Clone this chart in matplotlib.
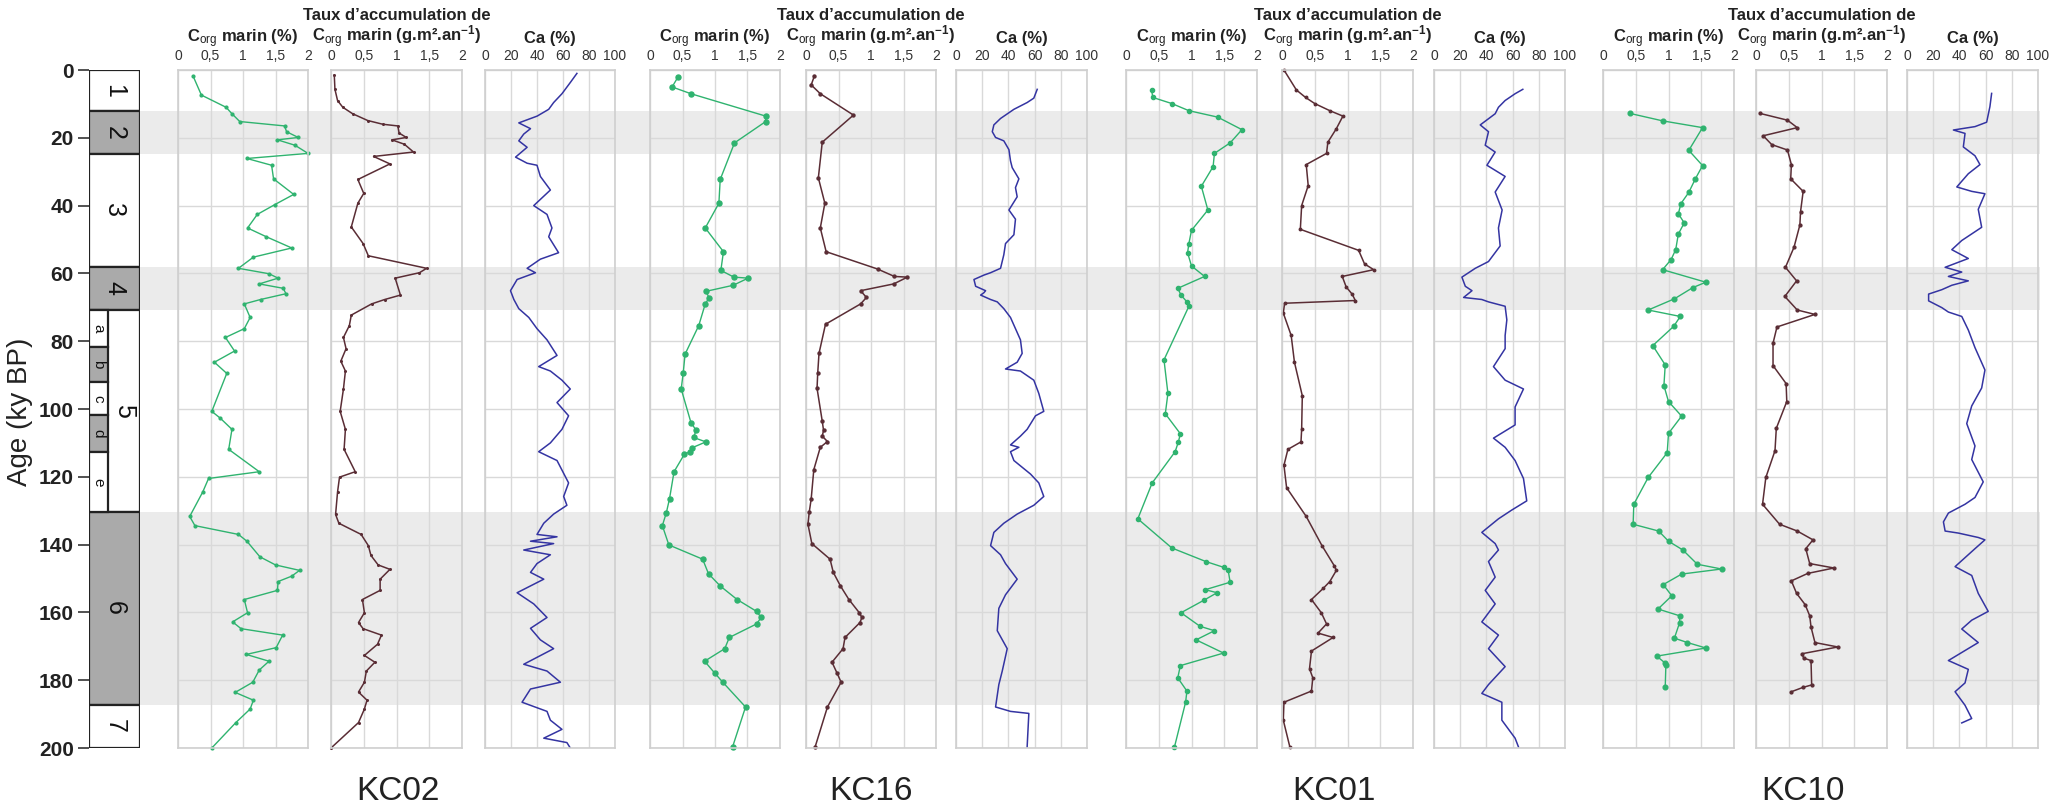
import matplotlib
matplotlib.use("Agg")
import matplotlib.pyplot as plt

plt.rcParams['font.family'] = ['Liberation Sans', 'DejaVu Sans']
plt.rcParams['mathtext.fontset'] = 'custom'
plt.rcParams['mathtext.rm'] = 'Liberation Sans'
plt.rcParams['mathtext.default'] = 'regular'

# ---------------- DATA ----------------
cores = ["KC02", "KC16", "KC01", "KC10"]

mis_bounds = [0, 12.2, 24.8, 58.0, 70.8, 130.3, 187.2, 200]
mis_labels = ["1", "2", "3", "4", "5", "6", "7"]
sub_bounds = [70.8, 81.7, 92.0, 101.8, 112.7, 130.3]
sub_labels = ["a", "b", "c", "d", "e"]
glacial_bands = [(12.2, 24.8), (58.0, 70.8), (130.3, 187.2)]

# (age ky BP, value)
kc02_corg = [(1.7,0.23),(7.4,0.36),(11.0,0.74),(12.9,0.83),(15.2,0.95),(16.5,1.64),(18.2,1.67),
             (19.9,1.85),(20.6,1.53),(22.2,1.80),(24.6,2.0),(26.1,1.06),(28.1,1.44),(32.1,1.47),
             (36.7,1.78),(39.7,1.49),(42.6,1.22),(46.6,1.07),(49.2,1.36),(52.5,1.75),(55.2,1.16),
             (58.5,0.93),(60.1,1.40),(61.4,1.54),(63.1,1.25),(64.4,1.62),(66.0,1.66),(67.7,1.27),
             (69.0,1.02),(73.0,1.11),(76.3,1.02),(78.9,0.73),(82.9,0.87),(86.2,0.56),(89.5,0.75),
             (100.7,0.52),(102.7,0.65),(106.0,0.83),(111.9,0.78),(118.5,1.25),(120.5,0.47),
             (124.5,0.38),(131.7,0.18),(134.4,0.26),(137.0,0.93),(139.0,1.06),(143.6,1.26),
             (146.0,1.50),(147.6,1.87),(149.3,1.75),(150.9,1.54),(153.5,1.53),(156.2,1.02),
             (160.1,1.07),(162.8,0.84),(164.8,0.97),(166.7,1.61),(170.4,1.51),(172.4,1.05),
             (174.4,1.40),(177.0,1.25),(180.6,1.15),(183.6,0.88),(185.9,1.16),(188.5,1.11),
             (192.5,0.89),(200.0,0.52)]
kc02_acc = [(1.5,0.05),(5.7,0.06),(9.0,0.10),(11.0,0.18),(12.9,0.33),(14.9,0.56),(16.0,0.79),
            (16.5,1.02),(18.6,1.04),(19.9,1.15),(20.6,0.93),(21.9,1.12),(24.2,1.26),(25.5,0.65),
            (27.7,0.90),(32.3,0.41),(36.4,0.50),(39.3,0.41),(46.3,0.31),(51.2,0.49),(54.8,0.57),
            (58.5,1.46),(59.8,1.35),(61.4,0.98),(66.4,1.06),(67.7,0.82),(69.0,0.62),(72.3,0.31),
            (75.4,0.28),(78.9,0.19),(82.2,0.23),(85.9,0.15),(88.8,0.22),(94.1,0.19),(100.7,0.14),
            (106.0,0.22),(111.9,0.20),(118.5,0.37),(120.1,0.13),(124.5,0.10),(131.1,0.07),
            (133.7,0.12),(137.0,0.46),(140.3,0.57),(143.2,0.61),(146.0,0.72),(147.3,0.90),
            (150.2,0.75),(153.5,0.75),(156.2,0.48),(160.1,0.51),(163.0,0.42),(164.8,0.49),
            (166.7,0.77),(169.4,0.71),(172.7,0.51),(174.7,0.67),(177.3,0.54),(180.6,0.51),
            (183.5,0.42),(185.9,0.55),(188.5,0.51),(192.5,0.42),(200.0,0.0)]
kc02_ca = [(1,70.7),(3.7,65.6),(7,59.2),(9.6,52.8),(11.6,49.0),(13.6,40.1),(15.6,26),(17.3,35),
           (18.9,29.8),(20.9,26),(22.8,32.4),(25.7,23.5),(27.5,32.4),(28.1,40),(31.4,42.6),
           (35.4,50.3),(40,37.5),(42.6,47.7),(46.6,51.5),(49.2,49),(53.9,56.6),(55.8,42.6),
           (58.5,32.4),(59.8,38.8),(61.8,24.7),(65.1,19.6),(67.7,22.2),(70.4,26),(73,33.7),
           (76.3,40),(79.6,47.7),(84.2,55.4),(87.5,41.3),(88.8,50.3),(91.5,59.2),(94.1,65.6),
           (98.1,55.4),(102,64.3),(106,59.2),(110,50.3),(112.6,41.3),(115.2,55.4),(121.8,64.3),
           (125.8,60.5),(128.4,63),(131,52.8),(133.7,45.2),(137,40),(137.7,55.4),(139,35),
           (139.7,52.8),(141.6,29.8),(143,50.3),(145.6,40),(148.2,35),(150.2,45.2),(154.2,24.7),
           (157.5,37.5),(161.5,47.7),(164.7,35),(168.1,42.6),(170.7,52.8),(175.3,29.8),
           (177.3,47.7),(180.6,58),(182.6,35),(186.5,28.5),(189.2,47.7),(191.8,50.3),
           (194.5,59.2),(197.1,45.2),(198.4,63),(200,65.6)]

kc16_corg = [(2.1,0.43),(5.0,0.34),(7.0,0.63),(13.6,1.78),(15.2,1.78),(21.5,1.30),(32.3,1.08),
             (39.3,1.06),(46.6,0.85),(53.6,1.13),(59.1,1.09),(61.1,1.29),(61.4,1.51),(63.5,1.28),
             (65.3,0.86),(67.2,0.91),(69.0,0.85),(75.4,0.75),(83.8,0.54),(89.5,0.51),(94.1,0.48),
             (104.0,0.63),(106.3,0.71),(108.4,0.67),(109.7,0.86),(111.5,0.64),(112.6,0.62),
             (113.3,0.53),(118.5,0.37),(126.5,0.30),(130.7,0.25),(134.4,0.19),(140.1,0.29),
             (144.3,0.81),(148.6,0.90),(152.2,1.08),(156.2,1.34),(159.7,1.64),(161.5,1.71),
             (163.4,1.64),(167.4,1.22),(170.7,1.15),(174.4,0.84),(178.0,1.00),(180.6,1.12),
             (187.9,1.47),(199.7,1.27)]
kc16_acc = [(1.7,0.13),(4.4,0.08),(7.0,0.22),(13.3,0.73),(21.3,0.25),(31.8,0.19),(39.3,0.29),
            (46.6,0.22),(53.6,0.31),(58.7,1.10),(60.9,1.36),(61.1,1.56),(63.1,1.35),(65.1,0.84),
            (67.1,0.93),(69.0,0.84),(75.0,0.30),(83.6,0.20),(89.5,0.18),(93.9,0.17),(103.6,0.25),
            (106.3,0.27),(108.0,0.25),(109.6,0.33),(111.3,0.22),(117.9,0.12),(126.5,0.08),
            (130.4,0.05),(134.0,0.03),(139.7,0.09),(144.3,0.37),(148.2,0.42),(152.2,0.53),
            (156.2,0.66),(160.1,0.82),(161.5,0.86),(163.0,0.83),(167.4,0.60),(170.7,0.57),
            (174.7,0.40),(178.0,0.48),(180.6,0.54),(187.9,0.33),(199.7,0.14)]
kc16_ca = [(5.7,62),(8.3,59.4),(9.6,54.3),(11.6,44.2),(14.3,34),(16.2,28.9),(18.2,27.7),(19.9,30.2),
           (20.9,36.5),(23.5,40.4),(26.8,41.6),(28.8,42.9),(32.1,48),(34.7,45.4),(37.4,46.7),
           (41.3,40.4),(44,45.4),(48.6,44.2),(51.2,37.8),(54.5,36.5),(58.5,34),(59.8,26.4),
           (60.5,21.3),(61.8,13.7),(63.8,15),(65.1,22.6),(65.7,21.3),(66.4,18.8),(67.7,26.4),
           (68.4,31.5),(70.4,36.5),(73,41.6),(76.3,45.4),(79.6,49.2),(83.6,50.5),(86.2,46.7),
           (88.2,37.8),(88.8,49.2),(91.5,59.4),(95.4,63.2),(100.7,67),(102,60.7),(106,54.3),
           (108,49.2),(110.6,41.6),(111.3,48),(112.6,41.6),(115.2,44.2),(119.2,56.9),(121.8,63.2),
           (125.8,67),(128.4,59.4),(131,46.7),(133.7,36.5),(136.4,28.9),(140.3,26.4),(143,34),
           (145.6,37.8),(150.2,46.7),(154.8,37.8),(158.8,32.7),(165.4,31.5),(170.7,39.1),
           (177.3,35.3),(181.3,32.7),(187.9,30.2),(189.2,41.6),(189.8,55.6),(199.7,54.3)]

kc01_corg = [(5.9,0.39),(8.1,0.41),(9.9,0.70),(12.0,0.96),(13.9,1.40),(17.6,1.77),(21.5,1.59),
             (24.6,1.35),(28.5,1.33),(34.3,1.15),(41.3,1.25),(47.3,1.00),(51.2,0.96),(53.9,0.94),
             (57.8,1.00),(60.9,1.20),(64.4,0.79),(66.4,0.84),(68.4,0.93),(69.7,0.96),(85.5,0.58),
             (95.4,0.64),(101.4,0.60),(107.3,0.83),(109.7,0.80),(112.6,0.75),(121.8,0.40),
             (132.4,0.18),(141.0,0.70),(145.0,1.22),(146.7,1.49),(147.6,1.56),(151.1,1.59),
             (153.3,1.21),(154.2,1.39),(156.4,1.19),(160.1,0.84),(164.1,1.13),(165.4,1.35),
             (168.1,1.07),(172.0,1.49),(175.7,0.83),(179.3,0.79),(183.2,0.93),(186.5,0.91),
             (199.7,0.74)]
kc01_acc = [(0.0,0.03),(5.9,0.22),(8.1,0.36),(9.9,0.50),(12.0,0.73),(13.6,0.93),(17.3,0.83),
            (21.3,0.70),(24.6,0.68),(27.9,0.37),(34.1,0.40),(40.0,0.30),(47.0,0.28),(53.2,1.17),
            (57.2,1.26),(58.9,1.40),(60.9,0.92),(64.0,0.98),(66.1,1.07),(68.0,1.12),(68.8,0.04),
            (71.7,0.02),(78.3,0.14),(86.2,0.19),(96.1,0.31),(106.0,0.30),(109.7,0.29),(111.9,0.09),
            (116.6,0.03),(123.2,0.07),(131.7,0.37),(140.3,0.61),(146.3,0.80),(147.6,0.83),
            (150.9,0.73),(152.9,0.63),(156.2,0.45),(160.1,0.60),(163.4,0.68),(166.1,0.55),
            (167.4,0.78),(171.4,0.45),(176.6,0.42),(179.3,0.47),(183.2,0.45),(186.5,0.03),
            (191.8,0.02),(199.7,0.12)]
kc01_ca = [(5.7,67.8),(7,61.9),(9,54.3),(11,49.2),(12.9,46.7),(16.2,35.3),(18.2,41.6),(22.2,39.1),
           (24.2,46.7),(28.1,40.4),(31.4,54.3),(36,46.7),(41.3,52),(46.6,49.2),(51.9,50.5),
           (56.5,41.6),(58.5,31.5),(61.1,21.3),(63.8,23.9),(65.1,29),(67.1,22.6),(67.7,36.5),
           (68.4,41.6),(69.7,54.3),(73.7,55.6),(78.3,54.3),(82.2,54.3),(87.5,45.4),(91.5,54.3),
           (94.1,68.3),(99.4,61.9),(104.7,61.9),(108.6,45.4),(111.3,54.3),(115.2,61.9),
           (120.5,68.3),(127.1,70.8),(129.8,59.4),(132.4,49.2),(136.4,36.5),(139.7,46.7),
           (141.6,49.2),(145,41.6),(149.6,46.7),(153.5,39.1),(157.5,46.7),(162.8,36.5),
           (166.7,49.2),(170.7,41.6),(176,54.3),(181.3,41.6),(183.9,36.5),(186.5,51.8),
           (191.8,51.8),(197.1,61.9),(199.7,64.5)]

kc10_corg = [(12.8,0.41),(15.0,0.91),(17.0,1.52),(23.7,1.31),(28.2,1.52),(32.1,1.41),(36.1,1.31),
             (39.4,1.19),(42.4,1.15),(45.1,1.24),(48.4,1.15),(53.0,1.11),(55.9,1.04),(58.9,0.91),
             (62.6,1.57),(64.2,1.37),(67.5,1.09),(70.8,0.69),(72.7,1.18),(75.6,1.08),(81.3,0.76),
             (87.0,0.95),(93.1,0.93),(97.8,1.00),(102.1,1.20),(107.2,1.00),(112.9,0.98),
             (120.2,0.69),(128.1,0.47),(134.0,0.46),(136.0,0.85),(139.0,1.00),(141.6,1.22),
             (145.8,1.44),(147.2,1.81),(148.7,1.20),(151.8,0.92),(155.1,1.05),(159.0,0.84),
             (161.0,1.17),(163.0,1.17),(167.6,1.09),(168.9,1.29),(170.5,1.57),(172.9,0.82),
             (174.8,0.94),(175.5,0.96),(182.1,0.95)]
kc10_acc = [(12.8,0.06),(14.8,0.48),(17.0,0.63),(19.4,0.11),(22.0,0.24),(23.6,0.48),(27.9,0.54),
            (32.1,0.53),(35.8,0.72),(41.8,0.68),(45.7,0.67),(52.3,0.58),(58.2,0.45),(62.2,0.62),
            (66.8,0.44),(70.8,0.63),(72.1,0.90),(75.8,0.32),(80.6,0.26),(87.2,0.26),(92.5,0.46),
            (97.8,0.47),(105.7,0.31),(112.3,0.29),(120.2,0.15),(128.1,0.10),(134.0,0.36),
            (136.0,0.63),(138.6,0.87),(141.2,0.76),(145.6,0.82),(146.9,1.19),(148.5,0.79),
            (150.7,0.54),(154.4,0.62),(157.7,0.75),(161.0,0.82),(164.3,0.84),(168.9,0.90),
            (170.2,1.25),(172.2,0.70),(173.5,0.73),(174.2,0.84),(181.4,0.85),(182.1,0.72),
            (183.4,0.54)]
kc10_ca = [(6.9,64.6),(10.8,63.3),(15.4,60.8),(16.7,51.9),(17.7,35.4),(18.7,44.3),(22.7,43),
           (25.3,51.9),(27.9,55.7),(30.6,46.8),(34.5,38),(35.8,49.4),(36.5,59.5),(41.1,54.4),
           (46.4,57),(50.3,41.8),(53,34.2),(55.6,46.8),(58.2,29.1),(59.6,41.8),(60.9,31.6),
           (62.2,46.8),(63.5,34.2),(64.8,26.6),(66.1,16.5),(68.1,16.5),(70.1,26.6),(71.4,31.6),
           (72.7,41.8),(76.7,46.8),(81.9,51.9),(88.5,59.5),(93.8,57),(99.1,49.4),(104.3,45.6),
           (110.9,51.9),(114.9,49.4),(121.5,58.2),(126.1,51.9),(128.1,44.3),(130.7,31.6),
           (133.3,27.8),(136,29.1),(136.6,39.2),(137.9,54.4),(138.6,59.5),(141.2,51.9),
           (146.5,36.7),(149.1,49.4),(154.4,54.4),(159.7,62),(162.3,49.4),(164.9,41.8),
           (168.9,54.4),(174.2,31.6),(176.8,46.8),(180.8,44.3),(183.4,36.7),(187.4,44.3),
           (191.3,49.4),(192.6,41.8)]

corg_ticks = [0, 0.5, 1, 1.5, 2]
corg_ticklabels = ["0", "0,5", "1", "1,5", "2"]
ca_ticks = [0, 20, 40, 60, 80, 100]
ca_ticklabels = ["0", "20", "40", "60", "80", "100"]
age_ticks = list(range(0, 201, 20))

series = {
    "KC02": (kc02_corg, kc02_acc, kc02_ca),
    "KC16": (kc16_corg, kc16_acc, kc16_ca),
    "KC01": (kc01_corg, kc01_acc, kc01_ca),
    "KC10": (kc10_corg, kc10_acc, kc10_ca),
}

# ---------------- STYLE / LAYOUT ----------------
W, H = 2067, 808
TOP, BOT = 70, 748
GREEN, BROWN, BLUE = "#2fb36f", "#5a2d35", "#3434a2"
BAND = "#ebebeb"
GRID = "#d9d9d9"

panel_x = {
    "KC02": [(178, 308), (331, 462), (485, 615)],
    "KC16": [(650, 780), (806, 936), (956, 1087)],
    "KC01": [(1126, 1257), (1282, 1413), (1434, 1565)],
    "KC10": [(1603, 1734), (1756, 1887), (1907, 2038)],
}
core_label_x = {"KC02": 398, "KC16": 871, "KC01": 1334, "KC10": 1803}
marker_size = {"KC02": 2.0, "KC16": 3.6, "KC01": 3.0, "KC10": 3.4}

TITLE_KW = dict(ha="center", va="center", fontsize=12, fontweight="bold", color="#222222")


def rect(x0, x1):
    return [x0 / W, 1 - BOT / H, (x1 - x0) / W, (BOT - TOP) / H]


fig = plt.figure(figsize=(W / 100, H / 100), dpi=100)

# background glacial bands
bg = fig.add_axes(rect(140, 2040), zorder=0)
bg.set_ylim(200, 0)
bg.set_xlim(0, 1)
bg.axis("off")
for a0, a1 in glacial_bands:
    bg.axhspan(a0, a1, color=BAND, lw=0)

# MIS column
mis = fig.add_axes(rect(89, 140), zorder=2)
mis.set_xlim(0, 1)
mis.set_ylim(200, 0)
for s in mis.spines.values():
    s.set_visible(False)
mis.set_xticks([])
mis.set_yticks(age_ticks)
mis.tick_params(axis="y", length=8, width=1.2, color="#333333", pad=3)
for lab in mis.get_yticklabels():
    lab.set_family(['Liberation Sans Narrow', 'Liberation Sans'])
    lab.set_fontweight("bold")
    lab.set_fontsize(15)
    lab.set_color("#222222")
split = 19 / 51
for i, lab in enumerate(mis_labels):
    a0, a1 = mis_bounds[i], mis_bounds[i + 1]
    fc = "#aaaaaa" if lab in ("2", "4", "6") else "white"
    mis.axhspan(a0, a1, 0, 1, facecolor=fc, edgecolor="#222222", lw=1.6, zorder=1)
    xc = 0.5 if lab != "5" else (split + 1) / 2
    mis.text(xc, (a0 + a1) / 2, lab, rotation=270, ha="center", va="center",
             fontsize=18, color="#111111")
for i, lab in enumerate(sub_labels):
    a0, a1 = sub_bounds[i], sub_bounds[i + 1]
    fc = "#aaaaaa" if lab in ("b", "d") else "white"
    mis.axhspan(a0, a1, 0, split, facecolor=fc, edgecolor="#222222", lw=1.6, zorder=2)
    mis.text(split / 2, (a0 + a1) / 2, lab, rotation=270, ha="center", va="center",
             fontsize=11, color="#111111", zorder=3)

fig.text(20 / W, 1 - 412 / H, "Age (ky BP)", rotation=90, ha="center", va="center",
         fontsize=20, color="#222222")


def style_panel(ax, xmax, ticks, ticklabels):
    ax.set_facecolor("none")
    ax.set_xlim(0, xmax)
    ax.set_ylim(200, 0)
    ax.xaxis.tick_top()
    ax.set_xticks(ticks)
    ax.set_xticklabels(ticklabels)
    ax.set_yticks(age_ticks)
    ax.tick_params(axis="x", length=0, pad=5, labelsize=10, labelcolor="#333333")
    ax.tick_params(axis="y", length=0, labelleft=False)
    ax.grid(True, color=GRID, lw=1)
    ax.set_axisbelow(True)
    for s in ax.spines.values():
        s.set_color("#cfcfcf")
        s.set_linewidth(1.2)


for core in cores:
    corg, acc, ca = series[core]
    (c0, c1), (a0, a1), (k0, k1) = panel_x[core]
    ms = marker_size[core]

    ax1 = fig.add_axes(rect(c0, c1), zorder=2)
    style_panel(ax1, 2, corg_ticks, corg_ticklabels)
    ax1.plot([v for _, v in corg], [a for a, _ in corg], color=GREEN, lw=1.0,
             marker="o", ms=ms, mec=GREEN, mfc=GREEN, clip_on=False)

    ax2 = fig.add_axes(rect(a0, a1), zorder=2)
    style_panel(ax2, 2, corg_ticks, corg_ticklabels)
    ax2.plot([v for _, v in acc], [a for a, _ in acc], color=BROWN, lw=1.1,
             marker="o", ms=ms * 0.6, mec=BROWN, mfc=BROWN, clip_on=False)

    ax3 = fig.add_axes(rect(k0, k1), zorder=2)
    style_panel(ax3, 100, ca_ticks, ca_ticklabels)
    ax3.plot([v for _, v in ca], [a for a, _ in ca], color=BLUE, lw=1.1)

    fig.text((c0 + c1) / 2 / W, 1 - 39 / H, r"C$_{\mathrm{org}}$ marin (%)", **TITLE_KW)
    fig.text((a0 + a1) / 2 / W, 1 - 15 / H, "Taux d\u2019accumulation de", **TITLE_KW)
    fig.text((a0 + a1) / 2 / W, 1 - 37 / H, "C$_{\\mathrm{org}}$ marin (g.m\u00b2.an$^{-1}$)",
             **TITLE_KW)
    fig.text((k0 + k1) / 2 / W, 1 - 39 / H, "Ca (%)", **TITLE_KW)
    fig.text(core_label_x[core] / W, 1 - 792 / H, core, ha="center", va="center",
             fontsize=24, color="#222222")

fig.savefig("out.png", dpi=100, facecolor="white")
